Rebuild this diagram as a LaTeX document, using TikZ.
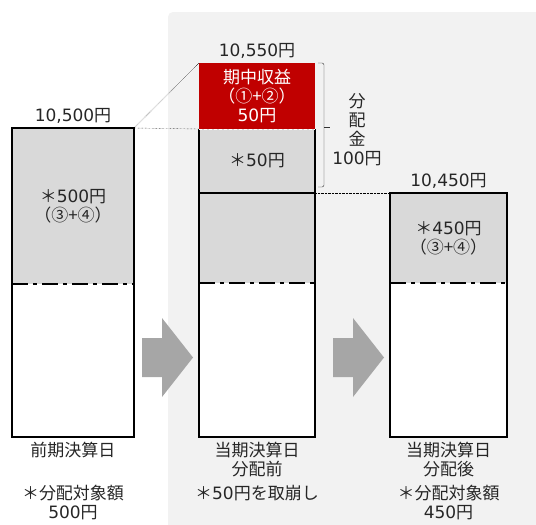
\documentclass[tikz,border=0pt]{standalone}
\usepackage{fontspec}
\setmainfont{Noto Sans CJK JP}
\newfontfamily\numfont{DejaVu Sans}
\newcommand\amt[1]{{\numfont #1}円}
\usetikzlibrary{positioning}
\definecolor{bgpanel}{HTML}{F2F2F2}
\definecolor{segfill}{HTML}{D9D9D9}
\definecolor{gainred}{HTML}{C00000}
\definecolor{arrowgray}{HTML}{A6A6A6}
\begin{document}
\begin{tikzpicture}[x=1pt, y=-1pt,
  every node/.style={font=\fontsize{17}{19}\selectfont, text=black!85,
                     inner sep=0pt, outer sep=0pt, align=center},
  seg/.style={rectangle, fill=#1},
  barline/.style={line width=1.6pt, black},
  splitline/.style={line width=1.8pt, black, dash pattern=on 16pt off 5pt on 4pt off 5pt},
  guide/.style={thin, black, densely dotted},
  bracket/.style={thin, black!80},
  pics/steparrow/.style={code={
    \fill[arrowgray] (0,-19.5) -- (20,-19.5) -- (20,-39.5) -- (51,0)
      -- (20,39.5) -- (20,19.5) -- (0,19.5) -- cycle;}}
]
  \useasboundingbox (0,0) rectangle (536,525);
  \fill[bgpanel, rounded corners=5pt] (168,12) rectangle (560,560);

  % previous period
  \node[seg=segfill, minimum width=122pt, minimum height=156pt] (prevTop) at (73,206) {＊\amt{500}\\（③+④）};
  \node[seg=white, minimum width=122pt, minimum height=153pt, below=0pt of prevTop] (prevBot) {};
  \draw[barline] (prevTop.north west) rectangle (prevBot.south east);
  \draw[splitline] (prevTop.south west) -- (prevTop.south east);
  \node[above=5pt of prevTop] (prevVal) {\amt{10,500}};
  \node[below=5pt of prevBot] (prevDate) {前期決算日};
  \node[below=48pt of prevBot] (prevNote) {＊分配対象額\\\amt{500}};

  % current period, before payout
  \node[seg=gainred, minimum width=116pt, minimum height=66pt, text=white] (gain) at (257,96) {期中収益\\（①+②）\\\amt{50}};
  \node[seg=segfill, minimum width=116pt, minimum height=64pt, below=0pt of gain] (drawn) {＊\amt{50}};
  \node[seg=segfill, minimum width=116pt, minimum height=90pt, below=0pt of drawn] (midRest) {};
  \node[seg=white, minimum width=116pt, minimum height=154pt, below=0pt of midRest] (midBot) {};
  \draw[barline] (drawn.north west) -- (midBot.south west) -- (midBot.south east) -- (drawn.north east);
  \draw[barline] (drawn.south west) -- (drawn.south east);
  \draw[white, thin, densely dashed] (drawn.north west) -- (drawn.north east);
  \draw[splitline] (midRest.south west) -- (midRest.south east);
  \node[above=5pt of gain] (gainVal) {\amt{10,550}};
  \node[below=5pt of midBot] (midDate) {当期決算日\\分配前};
  \node[below=48pt of midBot] (midNote) {＊\amt{50}を取崩し};

  % payout bracket
  \draw[bracket, rounded corners=2pt] ([xshift=3pt]gain.north east) -- ++(6,0)
    -- ([xshift=9pt, yshift=6pt]drawn.south east) -- ++(-6,0);
  \draw[bracket] ([xshift=9pt, yshift=2pt]gain.south east) -- ++(6,0);
  \node (payout) at (357,130) {分\\配\\金\\\amt{100}};

  % current period, after payout
  \node[seg=segfill, minimum width=117pt, minimum height=90pt] (postTop) at (448.5,238) {＊\amt{450}\\（③+④）};
  \node[seg=white, minimum width=117pt, minimum height=154pt, below=0pt of postTop] (postBot) {};
  \draw[barline] (postTop.north west) rectangle (postBot.south east);
  \draw[splitline] (postTop.south west) -- (postTop.south east);
  \node[above=5pt of postTop] (postVal) {\amt{10,450}};
  \node[below=5pt of postBot] (postDate) {当期決算日\\分配後};
  \node[below=48pt of postBot] (postNote) {＊分配対象額\\\amt{450}};

  % guides
  \draw[guide] (prevTop.north east) -- (gain.north west);
  \draw[guide] (prevTop.north east) -- (drawn.north west);
  \draw[guide] (midRest.north east) -- (postTop.north west);

  % step arrows
  \coordinate (stepA) at (142,357.5);
  \coordinate (stepB) at (333,357.5);
  \pic at (stepA) {steparrow};
  \pic at (stepB) {steparrow};
\end{tikzpicture}
\end{document}
